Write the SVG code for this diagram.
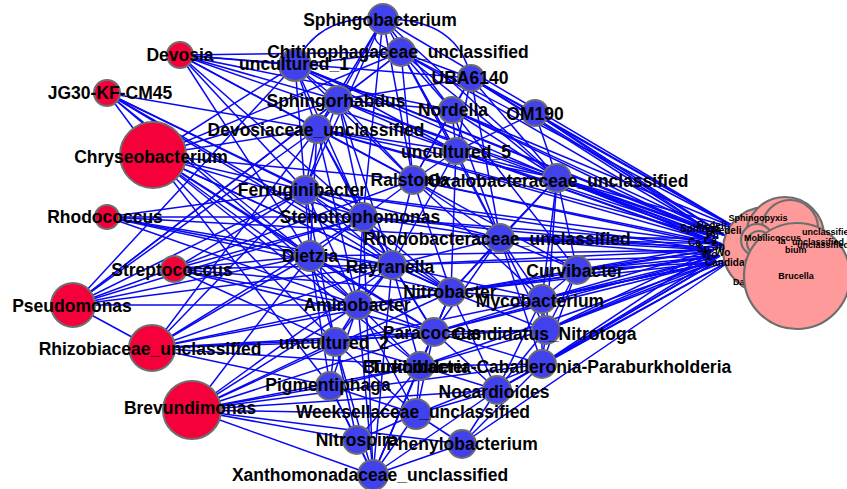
<svg xmlns="http://www.w3.org/2000/svg" width="847" height="489" viewBox="0 0 847 489">
<style>
.e{stroke:#0808f4;stroke-width:1.5;fill:none}
.r{fill:#f5003a;stroke:#6e6e6e;stroke-width:2}
.b{fill:#4141ee;stroke:#6e6e6e;stroke-width:2}
.p{fill:#ff9a9a;stroke:#6e6e6e;stroke-width:2.2}
text{font-family:"Liberation Sans",Arial,sans-serif;font-weight:bold;fill:#000}
.l{font-size:17.5px;text-anchor:middle}
.s{font-size:9px}
.t{font-size:10px}
</style>
<rect width="847" height="489" fill="#fff"/>
<g id="connectors">
<line class="e" x1="180" y1="55" x2="295" y2="65"/><line class="e" x1="180" y1="55" x2="401" y2="52"/><line class="e" x1="180" y1="55" x2="338" y2="100"/><line class="e" x1="180" y1="55" x2="317" y2="129"/><line class="e" x1="180" y1="55" x2="471" y2="78"/><line class="e" x1="180" y1="55" x2="452" y2="110"/><line class="e" x1="180" y1="55" x2="305" y2="190"/><line class="e" x1="180" y1="55" x2="363" y2="217"/><line class="e" x1="180" y1="55" x2="310" y2="256"/><line class="e" x1="180" y1="55" x2="413" y2="180"/><line class="e" x1="180" y1="55" x2="456" y2="151"/>
<line class="e" x1="107" y1="93" x2="305" y2="190"/><line class="e" x1="107" y1="93" x2="310" y2="256"/><line class="e" x1="107" y1="93" x2="363" y2="217"/><line class="e" x1="107" y1="93" x2="358" y2="305"/><line class="e" x1="107" y1="93" x2="392" y2="265"/><line class="e" x1="107" y1="93" x2="317" y2="129"/><line class="e" x1="107" y1="93" x2="451" y2="292"/><line class="e" x1="107" y1="93" x2="153" y2="155"/>
<line class="e" x1="153" y1="155" x2="338" y2="100"/><line class="e" x1="153" y1="155" x2="317" y2="129"/><line class="e" x1="153" y1="155" x2="305" y2="190"/><line class="e" x1="153" y1="155" x2="363" y2="217"/><line class="e" x1="153" y1="155" x2="310" y2="256"/><line class="e" x1="153" y1="155" x2="358" y2="305"/><line class="e" x1="153" y1="155" x2="335" y2="342"/><line class="e" x1="153" y1="155" x2="392" y2="265"/><line class="e" x1="153" y1="155" x2="451" y2="292"/><line class="e" x1="153" y1="155" x2="434" y2="332"/><line class="e" x1="153" y1="155" x2="295" y2="65"/><line class="e" x1="153" y1="155" x2="401" y2="52"/><line class="e" x1="153" y1="155" x2="413" y2="180"/><line class="e" x1="153" y1="155" x2="330" y2="386"/><line class="e" x1="153" y1="155" x2="420" y2="366"/>
<line class="e" x1="107" y1="217" x2="363" y2="217"/><line class="e" x1="107" y1="217" x2="305" y2="190"/><line class="e" x1="107" y1="217" x2="310" y2="256"/><line class="e" x1="107" y1="217" x2="392" y2="265"/><line class="e" x1="107" y1="217" x2="500" y2="238"/><line class="e" x1="107" y1="217" x2="358" y2="305"/><line class="e" x1="107" y1="217" x2="451" y2="292"/>
<line class="e" x1="174" y1="269" x2="310" y2="256"/><line class="e" x1="174" y1="269" x2="358" y2="305"/><line class="e" x1="174" y1="269" x2="335" y2="342"/><line class="e" x1="174" y1="269" x2="392" y2="265"/><line class="e" x1="174" y1="269" x2="451" y2="292"/><line class="e" x1="174" y1="269" x2="434" y2="332"/><line class="e" x1="174" y1="269" x2="305" y2="190"/><line class="e" x1="174" y1="269" x2="363" y2="217"/>
<line class="e" x1="73" y1="305" x2="295" y2="65"/><line class="e" x1="73" y1="305" x2="317" y2="129"/><line class="e" x1="73" y1="305" x2="338" y2="100"/><line class="e" x1="73" y1="305" x2="305" y2="190"/><line class="e" x1="73" y1="305" x2="363" y2="217"/><line class="e" x1="73" y1="305" x2="401" y2="52"/><line class="e" x1="73" y1="305" x2="310" y2="256"/><line class="e" x1="73" y1="305" x2="152" y2="348"/><line class="e" x1="73" y1="305" x2="413" y2="180"/><line class="e" x1="73" y1="305" x2="392" y2="265"/><line class="e" x1="73" y1="305" x2="358" y2="305"/>
<line class="e" x1="152" y1="348" x2="358" y2="305"/><line class="e" x1="152" y1="348" x2="335" y2="342"/><line class="e" x1="152" y1="348" x2="434" y2="332"/><line class="e" x1="152" y1="348" x2="420" y2="366"/><line class="e" x1="152" y1="348" x2="330" y2="386"/><line class="e" x1="152" y1="348" x2="305" y2="190"/><line class="e" x1="152" y1="348" x2="317" y2="129"/><line class="e" x1="152" y1="348" x2="363" y2="217"/><line class="e" x1="152" y1="348" x2="310" y2="256"/><line class="e" x1="152" y1="348" x2="392" y2="265"/><line class="e" x1="152" y1="348" x2="451" y2="292"/><line class="e" x1="152" y1="348" x2="546" y2="330"/>
<line class="e" x1="192" y1="410" x2="335" y2="342"/><line class="e" x1="192" y1="410" x2="330" y2="386"/><line class="e" x1="192" y1="410" x2="416" y2="414"/><line class="e" x1="192" y1="410" x2="357" y2="440"/><line class="e" x1="192" y1="410" x2="373" y2="475"/><line class="e" x1="192" y1="410" x2="420" y2="366"/><line class="e" x1="192" y1="410" x2="434" y2="332"/><line class="e" x1="192" y1="410" x2="358" y2="305"/><line class="e" x1="192" y1="410" x2="310" y2="256"/><line class="e" x1="192" y1="410" x2="392" y2="265"/><line class="e" x1="192" y1="410" x2="451" y2="292"/><line class="e" x1="192" y1="410" x2="497" y2="390"/><line class="e" x1="192" y1="410" x2="542" y2="364"/><line class="e" x1="192" y1="410" x2="462" y2="444"/>
<path class="e" d="M383 19Q318 14 295 65"/><path class="e" d="M383 19Q458 18 471 78"/><path class="e" d="M383 19Q360 45 401 52"/>
<line class="e" x1="383" y1="19" x2="338" y2="100"/><line class="e" x1="383" y1="19" x2="317" y2="129"/><line class="e" x1="383" y1="19" x2="452" y2="110"/><line class="e" x1="383" y1="19" x2="413" y2="180"/><line class="e" x1="383" y1="19" x2="456" y2="151"/><line class="e" x1="383" y1="19" x2="557" y2="178"/><line class="e" x1="383" y1="19" x2="363" y2="217"/><line class="e" x1="383" y1="19" x2="305" y2="190"/>
<line class="e" x1="401" y1="52" x2="471" y2="78"/><line class="e" x1="401" y1="52" x2="295" y2="65"/><line class="e" x1="401" y1="52" x2="338" y2="100"/><line class="e" x1="401" y1="52" x2="452" y2="110"/><line class="e" x1="401" y1="52" x2="413" y2="180"/><line class="e" x1="401" y1="52" x2="557" y2="178"/><line class="e" x1="401" y1="52" x2="456" y2="151"/><line class="e" x1="401" y1="52" x2="500" y2="238"/>
<line class="e" x1="295" y1="65" x2="338" y2="100"/><line class="e" x1="295" y1="65" x2="317" y2="129"/><line class="e" x1="295" y1="65" x2="305" y2="190"/><line class="e" x1="295" y1="65" x2="413" y2="180"/><line class="e" x1="295" y1="65" x2="363" y2="217"/><line class="e" x1="295" y1="65" x2="456" y2="151"/><line class="e" x1="295" y1="65" x2="557" y2="178"/>
<line class="e" x1="471" y1="78" x2="452" y2="110"/><line class="e" x1="471" y1="78" x2="456" y2="151"/><line class="e" x1="471" y1="78" x2="557" y2="178"/><line class="e" x1="471" y1="78" x2="535" y2="113"/><line class="e" x1="471" y1="78" x2="500" y2="238"/><line class="e" x1="471" y1="78" x2="413" y2="180"/><line class="e" x1="471" y1="78" x2="338" y2="100"/>
<line class="e" x1="338" y1="100" x2="317" y2="129"/><line class="e" x1="338" y1="100" x2="305" y2="190"/><line class="e" x1="338" y1="100" x2="413" y2="180"/><line class="e" x1="338" y1="100" x2="363" y2="217"/><line class="e" x1="338" y1="100" x2="392" y2="265"/><line class="e" x1="338" y1="100" x2="456" y2="151"/><line class="e" x1="338" y1="100" x2="452" y2="110"/>
<line class="e" x1="452" y1="110" x2="456" y2="151"/><line class="e" x1="452" y1="110" x2="557" y2="178"/><line class="e" x1="452" y1="110" x2="413" y2="180"/><line class="e" x1="452" y1="110" x2="500" y2="238"/><line class="e" x1="452" y1="110" x2="577" y2="270"/>
<line class="e" x1="535" y1="113" x2="557" y2="178"/><line class="e" x1="535" y1="113" x2="456" y2="151"/>
<line class="e" x1="317" y1="129" x2="305" y2="190"/><line class="e" x1="317" y1="129" x2="363" y2="217"/><line class="e" x1="317" y1="129" x2="413" y2="180"/><line class="e" x1="317" y1="129" x2="310" y2="256"/><line class="e" x1="317" y1="129" x2="392" y2="265"/><line class="e" x1="317" y1="129" x2="358" y2="305"/><line class="e" x1="317" y1="129" x2="456" y2="151"/><line class="e" x1="317" y1="129" x2="557" y2="178"/>
<line class="e" x1="456" y1="151" x2="413" y2="180"/><line class="e" x1="456" y1="151" x2="557" y2="178"/><line class="e" x1="456" y1="151" x2="500" y2="238"/><line class="e" x1="456" y1="151" x2="451" y2="292"/><line class="e" x1="456" y1="151" x2="392" y2="265"/>
<line class="e" x1="413" y1="180" x2="557" y2="178"/><line class="e" x1="413" y1="180" x2="500" y2="238"/><line class="e" x1="413" y1="180" x2="363" y2="217"/><line class="e" x1="413" y1="180" x2="392" y2="265"/><line class="e" x1="413" y1="180" x2="451" y2="292"/><line class="e" x1="413" y1="180" x2="577" y2="270"/><line class="e" x1="413" y1="180" x2="542" y2="299"/>
<line class="e" x1="557" y1="178" x2="500" y2="238"/><line class="e" x1="557" y1="178" x2="577" y2="270"/><line class="e" x1="557" y1="178" x2="542" y2="299"/><line class="e" x1="557" y1="178" x2="546" y2="330"/><line class="e" x1="557" y1="178" x2="451" y2="292"/>
<line class="e" x1="305" y1="190" x2="363" y2="217"/><line class="e" x1="305" y1="190" x2="310" y2="256"/><line class="e" x1="305" y1="190" x2="392" y2="265"/><line class="e" x1="305" y1="190" x2="358" y2="305"/><line class="e" x1="305" y1="190" x2="335" y2="342"/><line class="e" x1="305" y1="190" x2="451" y2="292"/><line class="e" x1="305" y1="190" x2="500" y2="238"/>
<line class="e" x1="363" y1="217" x2="392" y2="265"/><line class="e" x1="363" y1="217" x2="310" y2="256"/><line class="e" x1="363" y1="217" x2="358" y2="305"/><line class="e" x1="363" y1="217" x2="451" y2="292"/><line class="e" x1="363" y1="217" x2="500" y2="238"/><line class="e" x1="363" y1="217" x2="434" y2="332"/>
<line class="e" x1="500" y1="238" x2="392" y2="265"/><line class="e" x1="500" y1="238" x2="451" y2="292"/><line class="e" x1="500" y1="238" x2="577" y2="270"/><line class="e" x1="500" y1="238" x2="542" y2="299"/><line class="e" x1="500" y1="238" x2="546" y2="330"/><line class="e" x1="500" y1="238" x2="434" y2="332"/><line class="e" x1="500" y1="238" x2="542" y2="364"/>
<line class="e" x1="310" y1="256" x2="358" y2="305"/><line class="e" x1="310" y1="256" x2="335" y2="342"/><line class="e" x1="310" y1="256" x2="392" y2="265"/><line class="e" x1="310" y1="256" x2="434" y2="332"/><line class="e" x1="310" y1="256" x2="330" y2="386"/>
<line class="e" x1="392" y1="265" x2="451" y2="292"/><line class="e" x1="392" y1="265" x2="358" y2="305"/><line class="e" x1="392" y1="265" x2="434" y2="332"/><line class="e" x1="392" y1="265" x2="335" y2="342"/><line class="e" x1="392" y1="265" x2="420" y2="366"/><line class="e" x1="392" y1="265" x2="542" y2="299"/>
<line class="e" x1="577" y1="270" x2="542" y2="299"/><line class="e" x1="577" y1="270" x2="546" y2="330"/><line class="e" x1="577" y1="270" x2="451" y2="292"/><line class="e" x1="577" y1="270" x2="542" y2="364"/>
<line class="e" x1="451" y1="292" x2="434" y2="332"/><line class="e" x1="451" y1="292" x2="542" y2="299"/><line class="e" x1="451" y1="292" x2="546" y2="330"/><line class="e" x1="451" y1="292" x2="420" y2="366"/><line class="e" x1="451" y1="292" x2="497" y2="390"/><line class="e" x1="451" y1="292" x2="358" y2="305"/>
<line class="e" x1="542" y1="299" x2="546" y2="330"/><line class="e" x1="542" y1="299" x2="542" y2="364"/><line class="e" x1="542" y1="299" x2="434" y2="332"/><line class="e" x1="542" y1="299" x2="497" y2="390"/>
<line class="e" x1="358" y1="305" x2="335" y2="342"/><line class="e" x1="358" y1="305" x2="434" y2="332"/><line class="e" x1="358" y1="305" x2="420" y2="366"/><line class="e" x1="358" y1="305" x2="330" y2="386"/><line class="e" x1="358" y1="305" x2="416" y2="414"/>
<line class="e" x1="434" y1="332" x2="546" y2="330"/><line class="e" x1="434" y1="332" x2="420" y2="366"/><line class="e" x1="434" y1="332" x2="335" y2="342"/><line class="e" x1="434" y1="332" x2="416" y2="414"/><line class="e" x1="434" y1="332" x2="497" y2="390"/><line class="e" x1="434" y1="332" x2="542" y2="364"/><line class="e" x1="434" y1="332" x2="373" y2="475"/>
<line class="e" x1="546" y1="330" x2="542" y2="364"/><line class="e" x1="546" y1="330" x2="420" y2="366"/><line class="e" x1="546" y1="330" x2="497" y2="390"/>
<line class="e" x1="335" y1="342" x2="420" y2="366"/><line class="e" x1="335" y1="342" x2="330" y2="386"/><line class="e" x1="335" y1="342" x2="416" y2="414"/><line class="e" x1="335" y1="342" x2="357" y2="440"/><line class="e" x1="335" y1="342" x2="373" y2="475"/>
<line class="e" x1="420" y1="366" x2="542" y2="364"/><line class="e" x1="420" y1="366" x2="416" y2="414"/><line class="e" x1="420" y1="366" x2="373" y2="475"/><line class="e" x1="420" y1="366" x2="357" y2="440"/><line class="e" x1="420" y1="366" x2="330" y2="386"/><line class="e" x1="420" y1="366" x2="497" y2="390"/>
<line class="e" x1="542" y1="364" x2="497" y2="390"/><line class="e" x1="542" y1="364" x2="462" y2="444"/><line class="e" x1="542" y1="364" x2="416" y2="414"/>
<line class="e" x1="330" y1="386" x2="416" y2="414"/><line class="e" x1="330" y1="386" x2="357" y2="440"/><line class="e" x1="330" y1="386" x2="373" y2="475"/>
<line class="e" x1="497" y1="390" x2="416" y2="414"/><line class="e" x1="497" y1="390" x2="462" y2="444"/><line class="e" x1="497" y1="390" x2="373" y2="475"/>
<line class="e" x1="416" y1="414" x2="357" y2="440"/><line class="e" x1="416" y1="414" x2="373" y2="475"/><line class="e" x1="416" y1="414" x2="462" y2="444"/>
<line class="e" x1="357" y1="440" x2="373" y2="475"/><line class="e" x1="462" y1="444" x2="373" y2="475"/>
<line class="e" x1="373" y1="475" x2="358" y2="305"/><line class="e" x1="373" y1="475" x2="392" y2="265"/><line class="e" x1="373" y1="475" x2="363" y2="217"/><line class="e" x1="373" y1="475" x2="451" y2="292"/>
<line class="e" x1="383" y1="19" x2="740" y2="230"/>
<line class="e" x1="401" y1="52" x2="712" y2="232"/><line class="e" x1="401" y1="52" x2="740" y2="230"/>
<line class="e" x1="295" y1="65" x2="712" y2="232"/><line class="e" x1="295" y1="65" x2="726" y2="236"/>
<line class="e" x1="471" y1="78" x2="712" y2="232"/><line class="e" x1="471" y1="78" x2="726" y2="236"/><line class="e" x1="471" y1="78" x2="740" y2="230"/>
<line class="e" x1="338" y1="100" x2="718" y2="238"/><line class="e" x1="338" y1="100" x2="726" y2="236"/>
<line class="e" x1="452" y1="110" x2="718" y2="238"/><line class="e" x1="452" y1="110" x2="726" y2="236"/><line class="e" x1="452" y1="110" x2="740" y2="230"/>
<line class="e" x1="535" y1="113" x2="712" y2="232"/><line class="e" x1="535" y1="113" x2="726" y2="236"/><line class="e" x1="535" y1="113" x2="740" y2="230"/>
<line class="e" x1="317" y1="129" x2="718" y2="238"/><line class="e" x1="317" y1="129" x2="722" y2="244"/>
<line class="e" x1="456" y1="151" x2="718" y2="238"/><line class="e" x1="456" y1="151" x2="722" y2="244"/><line class="e" x1="456" y1="151" x2="730" y2="248"/>
<line class="e" x1="413" y1="180" x2="722" y2="244"/><line class="e" x1="413" y1="180" x2="730" y2="248"/>
<line class="e" x1="557" y1="178" x2="712" y2="232"/><line class="e" x1="557" y1="178" x2="718" y2="238"/><line class="e" x1="557" y1="178" x2="722" y2="244"/><line class="e" x1="557" y1="178" x2="726" y2="236"/><line class="e" x1="557" y1="178" x2="730" y2="248"/><line class="e" x1="557" y1="178" x2="740" y2="230"/>
<line class="e" x1="305" y1="190" x2="722" y2="244"/><line class="e" x1="305" y1="190" x2="714" y2="250"/>
<line class="e" x1="363" y1="217" x2="722" y2="244"/><line class="e" x1="363" y1="217" x2="714" y2="250"/>
<line class="e" x1="500" y1="238" x2="718" y2="238"/><line class="e" x1="500" y1="238" x2="722" y2="244"/><line class="e" x1="500" y1="238" x2="714" y2="250"/><line class="e" x1="500" y1="238" x2="720" y2="256"/><line class="e" x1="500" y1="238" x2="730" y2="248"/>
<line class="e" x1="310" y1="256" x2="714" y2="250"/>
<line class="e" x1="392" y1="265" x2="714" y2="250"/><line class="e" x1="392" y1="265" x2="720" y2="256"/>
<line class="e" x1="577" y1="270" x2="722" y2="244"/><line class="e" x1="577" y1="270" x2="714" y2="250"/><line class="e" x1="577" y1="270" x2="720" y2="256"/><line class="e" x1="577" y1="270" x2="716" y2="262"/>
<line class="e" x1="451" y1="292" x2="714" y2="250"/><line class="e" x1="451" y1="292" x2="720" y2="256"/><line class="e" x1="451" y1="292" x2="716" y2="262"/>
<line class="e" x1="542" y1="299" x2="714" y2="250"/><line class="e" x1="542" y1="299" x2="720" y2="256"/><line class="e" x1="542" y1="299" x2="716" y2="262"/><line class="e" x1="542" y1="299" x2="735" y2="258"/>
<line class="e" x1="358" y1="305" x2="720" y2="256"/>
<line class="e" x1="434" y1="332" x2="720" y2="256"/><line class="e" x1="434" y1="332" x2="716" y2="262"/>
<line class="e" x1="546" y1="330" x2="714" y2="250"/><line class="e" x1="546" y1="330" x2="720" y2="256"/><line class="e" x1="546" y1="330" x2="716" y2="262"/><line class="e" x1="546" y1="330" x2="735" y2="258"/>
<line class="e" x1="335" y1="342" x2="716" y2="262"/>
<line class="e" x1="420" y1="366" x2="716" y2="262"/>
<line class="e" x1="542" y1="364" x2="720" y2="256"/><line class="e" x1="542" y1="364" x2="716" y2="262"/><line class="e" x1="542" y1="364" x2="735" y2="258"/><line class="e" x1="542" y1="364" x2="714" y2="250"/>
<line class="e" x1="497" y1="390" x2="716" y2="262"/><line class="e" x1="497" y1="390" x2="735" y2="258"/>
<line class="e" x1="462" y1="444" x2="735" y2="258"/>
</g>
<g id="n-Devosia"><circle class="r" cx="180" cy="55" r="13"/><text class="l" x="180" y="61">Devosia</text></g>
<g id="n-JG30-KF-CM45"><circle class="r" cx="107" cy="93" r="13"/><text class="l" x="110" y="99">JG30-KF-CM45</text></g>
<g id="n-Chryseobacterium"><circle class="r" cx="153" cy="155" r="33"/><text class="l" x="151" y="163">Chryseobacterium</text></g>
<g id="n-Rhodococcus"><circle class="r" cx="107" cy="217" r="12"/><text class="l" x="105" y="223">Rhodococcus</text></g>
<g id="n-Streptococcus"><circle class="r" cx="174" cy="269" r="13"/><text class="l" x="172" y="276">Streptococcus</text></g>
<g id="n-Pseudomonas"><circle class="r" cx="73" cy="305" r="22"/><text class="l" x="72" y="312">Pseudomonas</text></g>
<g id="n-Rhizobiaceae_unclassified"><circle class="r" cx="152" cy="348" r="23"/><text class="l" x="150" y="355">Rhizobiaceae_unclassified</text></g>
<g id="n-Brevundimonas"><circle class="r" cx="192" cy="410" r="29"/><text class="l" x="190" y="414">Brevundimonas</text></g>
<g id="n-Sphingobacterium"><circle class="b" cx="383" cy="19" r="15"/><text class="l" x="380" y="26">Sphingobacterium</text></g>
<g id="n-uncultured_1"><circle class="b" cx="295" cy="65" r="16"/><text class="l" x="294" y="70">uncultured_1</text></g>
<g id="n-Chitinophagaceae_unclassified"><circle class="b" cx="401" cy="52" r="14"/><text class="l" x="398" y="58">Chitinophagaceae_unclassified</text></g>
<g id="n-UBA6140"><circle class="b" cx="471" cy="78" r="13"/><text class="l" x="470" y="84">UBA6140</text></g>
<g id="n-Sphingorhabdus"><circle class="b" cx="338" cy="100" r="14"/><text class="l" x="336" y="107">Sphingorhabdus</text></g>
<g id="n-Nordella"><circle class="b" cx="452" cy="110" r="13"/><text class="l" x="453" y="116">Nordella</text></g>
<g id="n-OM190"><circle class="b" cx="535" cy="113" r="13"/><text class="l" x="535" y="120">OM190</text></g>
<g id="n-Devosiaceae_unclassified"><circle class="b" cx="317" cy="129" r="14"/><text class="l" x="316" y="136">Devosiaceae_unclassified</text></g>
<g id="n-uncultured_5"><circle class="b" cx="456" cy="151" r="13"/><text class="l" x="456" y="158">uncultured_5</text></g>
<g id="n-Ralstonia"><circle class="b" cx="413" cy="180" r="14"/><text class="l" x="410" y="186">Ralstonia</text></g>
<g id="n-Oxalobacteraceae_unclassified"><circle class="b" cx="557" cy="178" r="14"/><text class="l" x="558" y="187">Oxalobacteraceae_unclassified</text></g>
<g id="n-Ferruginibacter"><circle class="b" cx="305" cy="190" r="14"/><text class="l" x="302" y="196">Ferruginibacter</text></g>
<g id="n-Stenotrophomonas"><circle class="b" cx="363" cy="217" r="14"/><text class="l" x="360" y="223">Stenotrophomonas</text></g>
<g id="n-Rhodobacteraceae_unclassified"><circle class="b" cx="500" cy="238" r="14"/><text class="l" x="497" y="245">Rhodobacteraceae_unclassified</text></g>
<g id="n-Dietzia"><circle class="b" cx="310" cy="256" r="15"/><text class="l" x="310" y="262">Dietzia</text></g>
<g id="n-Reyranella"><circle class="b" cx="392" cy="265" r="14"/><text class="l" x="390" y="273">Reyranella</text></g>
<g id="n-Curvibacter"><circle class="b" cx="577" cy="270" r="14"/><text class="l" x="575" y="277">Curvibacter</text></g>
<g id="n-Nitrobacter"><circle class="b" cx="451" cy="292" r="14"/><text class="l" x="450" y="298">Nitrobacter</text></g>
<g id="n-Mycobacterium"><circle class="b" cx="542" cy="299" r="14"/><text class="l" x="540" y="307">Mycobacterium</text></g>
<g id="n-Aminobacter"><circle class="b" cx="358" cy="305" r="14"/><text class="l" x="357" y="311">Aminobacter</text></g>
<g id="n-Paracoccus"><circle class="b" cx="434" cy="332" r="14"/><text class="l" x="432" y="339">Paracoccus</text></g>
<g id="n-Candidatus_Nitrotoga"><circle class="b" cx="546" cy="330" r="14"/><text class="l" x="545" y="340">Candidatus_Nitrotoga</text></g>
<g id="n-uncultured_2"><circle class="b" cx="335" cy="342" r="14"/><text class="l" x="334" y="349">uncultured_2</text></g>
<g id="n-Turicibacter"><circle class="b" cx="420" cy="366" r="14"/><text class="l" x="420" y="373">Turicibacter</text></g>
<g id="n-Burkholderia-Caballeronia-Paraburkholderia"><circle class="b" cx="542" cy="364" r="14"/><text class="l" x="547" y="373">Burkholderia-Caballeronia-Paraburkholderia</text></g>
<g id="n-Pigmentiphaga"><circle class="b" cx="330" cy="386" r="14"/><text class="l" x="328" y="391">Pigmentiphaga</text></g>
<g id="n-Nocardioides"><circle class="b" cx="497" cy="390" r="14"/><text class="l" x="494" y="398">Nocardioides</text></g>
<g id="n-Weeksellaceae_unclassified"><circle class="b" cx="416" cy="414" r="15"/><text class="l" x="413" y="418">Weeksellaceae_unclassified</text></g>
<g id="n-Nitrospira"><circle class="b" cx="357" cy="440" r="14"/><text class="l" x="357" y="446">Nitrospira</text></g>
<g id="n-Phenylobacterium"><circle class="b" cx="462" cy="444" r="14"/><text class="l" x="462" y="450">Phenylobacterium</text></g>
<g id="n-Xanthomonadaceae_unclassified"><circle class="b" cx="373" cy="475" r="15"/><text class="l" x="370" y="481">Xanthomonadaceae_unclassified</text></g>
<g id="pink-cluster">
<g id="n-pink-1"><circle class="p" cx="766" cy="250" r="43"/></g>
<g id="n-pink-2"><circle class="p" cx="785" cy="236" r="39"/></g>
<g id="n-pink-3"><circle class="p" cx="790" cy="228" r="28"/></g>
<g id="n-pink-labels-left">
<text class="t" x="680" y="232">Sphingo</text>
<text class="t" x="697" y="229">Pedeli</text>
<text class="t" x="706" y="239">Ph</text>
<text class="t" x="712" y="234">Pedeli</text>
<text class="t" x="688" y="246">Ca</text>
<text class="t" x="704" y="244">Ca</text>
<text class="t" x="697" y="252">Sp</text>
<text class="t" x="712" y="250">Sp</text>
<text class="t" x="702" y="258">Wo</text>
<text class="t" x="715" y="256">Wo</text>
<text class="t" x="705" y="266">Candidat</text>
<text class="s" x="733" y="285">Da</text>
</g>
<g id="n-pink-4"><circle class="p" cx="777" cy="246" r="13"/></g>
<g id="n-pink-5"><circle class="p" cx="770" cy="251" r="10"/></g>
<g id="n-pink-6"><circle class="p" cx="757" cy="240" r="16"/></g>
<g id="n-pink-7"><circle class="p" cx="759" cy="243" r="12"/></g>
<g id="n-Brucella"><circle class="p" cx="797" cy="276" r="53"/><text class="s" x="796" y="279" text-anchor="middle">Brucella</text></g>
<g id="n-pink-labels-right">
<text class="s" x="758" y="221" text-anchor="middle">Sphingopyxis</text>
<text class="s" x="744" y="241">Mobilicoccus</text>
<text class="s" x="778" y="244">la</text>
<text class="s" x="792" y="245">unclassified</text>
<text class="s" x="797" y="248">unclassified</text>
<text class="s" x="802" y="235">unclassified</text>
<text class="s" x="785" y="253">bium</text>
</g>
</g>
</svg>
